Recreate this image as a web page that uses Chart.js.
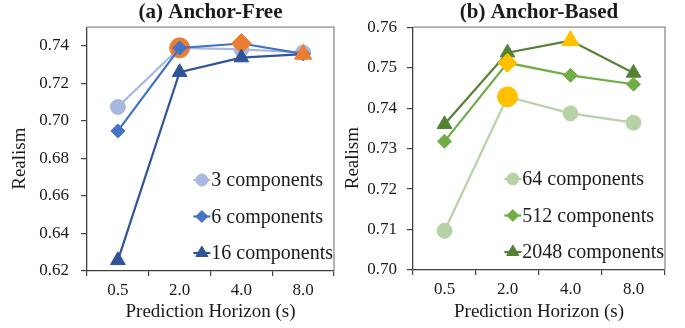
<!DOCTYPE html>
<html>
<head>
<meta charset="utf-8">
<script src="https://cdn.jsdelivr.net/npm/chart.js@4/dist/chart.umd.min.js"></script>
<style>
  body { margin: 0; background: #fff; }
  .wrap { position: relative; width: 685px; height: 328px; }
  .wrap canvas { position: absolute; top: 0; }
  #left { left: 0; }
  #right { left: 340px; }
</style>
</head>
<body>
<div class="wrap">
  <canvas id="left" width="345" height="328"></canvas>
  <canvas id="right" width="345" height="328"></canvas>
</div>
<script>
// data
const horizons = ['0.5', '2.0', '4.0', '8.0']

const freeLabels = ['3 components', '6 components', '16 components']
const free3 = [0.7075, 0.7390, 0.7382, 0.7365]
const free6 = [0.6947, 0.7389, 0.7413, 0.7358]
const free16 = [0.6257, 0.7260, 0.7338, 0.7356]
const freeTicks = [0.62, 0.64, 0.66, 0.68, 0.70, 0.72, 0.74]

const basedLabels = ['64 components', '512 components', '2048 components']
const based64 = [0.7097, 0.7428, 0.7387, 0.7364]
const based512 = [0.7318, 0.7512, 0.7481, 0.7459]
const based2048 = [0.7360, 0.7537, 0.7567, 0.7487]
const basedTicks = [0.70, 0.71, 0.72, 0.73, 0.74, 0.75, 0.76]

const FONT = '"Liberation Serif", "Times New Roman", serif'
const INK = '#1a1a1a'
Chart.defaults.font.family = FONT
Chart.defaults.color = INK

// best horizon of each series gets the highlight colour
function series(label, values, color, hiColor, style, r, hiR, order) {
  const best = values.indexOf(Math.max(...values))
  return {
    label,
    data: values,
    borderColor: color,
    borderWidth: 2.2,
    pointStyle: style,
    pointBackgroundColor: values.map((v, i) => (i === best ? hiColor : color)),
    pointBorderColor: values.map((v, i) => (i === best ? hiColor : color)),
    pointBorderWidth: 1,
    pointRadius: values.map((v, i) => (i === best ? hiR : r)),
    pointHoverRadius: values.map((v, i) => (i === best ? hiR : r)),
    order,
    clip: false,
    tension: 0,
  }
}

// legend drawn inside the plot, bottom right, with line + marker
const insideLegend = {
  id: 'insideLegend',
  afterDatasetsDraw(chart) {
    const { ctx, chartArea } = chart
    const sets = chart.data.datasets
    ctx.save()
    ctx.font = '20px ' + FONT
    const textW = Math.max(...sets.map((d) => ctx.measureText(d.label).width))
    const symW = 17
    const x0 = chartArea.right - 2 - textW - symW
    sets.forEach((d, i) => {
      const y = chartArea.bottom - 18 - (sets.length - 1 - i) * 36.5
      ctx.strokeStyle = d.borderColor
      ctx.fillStyle = d.borderColor
      ctx.lineWidth = d.borderWidth
      ctx.beginPath()
      ctx.moveTo(x0, y)
      ctx.lineTo(x0 + symW, y)
      ctx.stroke()
      ctx.lineWidth = 1
      Chart.helpers.drawPoint(
        ctx,
        { pointStyle: d.pointStyle, radius: d.pointStyle === 'triangle' ? 7 : 6, borderWidth: 1, rotation: 0 },
        x0 + symW / 2,
        y
      )
      ctx.fillStyle = INK
      ctx.textAlign = 'left'
      ctx.textBaseline = 'middle'
      ctx.fillText(d.label, x0 + symW + 1, y + 1)
    })
    ctx.restore()
  },
}

// grey top and right edges of the plot box
const frame = {
  id: 'frame',
  beforeDatasetsDraw(chart) {
    const { ctx, chartArea: a } = chart
    ctx.save()
    ctx.strokeStyle = '#8c8c8c'
    ctx.lineWidth = 1.3
    ctx.beginPath()
    ctx.moveTo(a.left, a.top)
    ctx.lineTo(a.right, a.top)
    ctx.lineTo(a.right, a.bottom)
    ctx.stroke()
    ctx.restore()
  },
}

function makeChart(id, title, datasets, yMin, yMax, yTicks, opts) {
  return new Chart(document.getElementById(id), {
    type: 'line',
    data: { labels: horizons, datasets },
    plugins: [frame, insideLegend],
    options: {
      responsive: false,
      animation: false,
      devicePixelRatio: 1,
      layout: { padding: { right: opts.padRight, left: 0, top: 0, bottom: 0 } },
      plugins: {
        legend: { display: false },
        tooltip: { enabled: false },
        title: {
          display: true,
          text: title,
          fullSize: false,
          font: { size: 21, weight: 'bold', family: FONT },
          color: INK,
          padding: { top: 0, bottom: 2 },
        },
      },
      scales: {
        x: {
          offset: true,
          grid: { offset: true, drawOnChartArea: false, tickLength: 5, color: '#404040', lineWidth: 1.2 },
          border: { color: '#404040', width: 1.3 },
          ticks: { font: { size: 17 }, padding: 4, color: INK },
          title: { display: true, text: 'Prediction Horizon (s)', font: { size: 19 }, padding: { bottom: 5 }, color: INK },
          afterFit: (s) => { s.height = opts.xHeight },
        },
        y: {
          min: yMin,
          max: yMax,
          grid: { drawOnChartArea: false, tickLength: 6, color: '#404040', lineWidth: 1.2 },
          border: { color: '#404040', width: 1.3 },
          ticks: { font: { size: 17 }, padding: opts.tickPad, color: INK, callback: (v) => v.toFixed(2) },
          afterBuildTicks: (s) => { s.ticks = yTicks.map((v) => ({ value: v })) },
          title: { display: true, text: 'Realism    ', font: { size: 19 }, padding: { top: opts.titlePad }, color: INK },
          afterFit: (s) => { s.width = opts.yWidth },
        },
      },
    },
  })
}

makeChart(
  'left',
  '(a) Anchor-Free',
  [
    series(freeLabels[0], free3, '#a9b8de', '#ed7d31', 'circle', 7.5, 10, 3),
    series(freeLabels[1], free6, '#4472c4', '#ed7d31', 'rectRot', 7, 10, 2),
    series(freeLabels[2], free16, '#2f5597', '#ed7d31', 'triangle', 8.5, 10, 1),
  ],
  0.62, 0.75, freeTicks,
  { padRight: 0, xHeight: 57, yWidth: 87, tickPad: 12, titlePad: 9 }
)

makeChart(
  'right',
  '(b) Anchor-Based',
  [
    series(basedLabels[0], based64, '#b5d3a6', '#ffc000', 'circle', 7.5, 10, 3),
    series(basedLabels[1], based512, '#70ad47', '#ffc000', 'rectRot', 7, 9.5, 1),
    series(basedLabels[2], based2048, '#548235', '#ffc000', 'triangle', 8.5, 10, 2),
  ],
  0.70, 0.76, basedTicks,
  { padRight: 20, xHeight: 58, yWidth: 73, tickPad: 10, titlePad: 2 }
)
</script>
</body>
</html>
